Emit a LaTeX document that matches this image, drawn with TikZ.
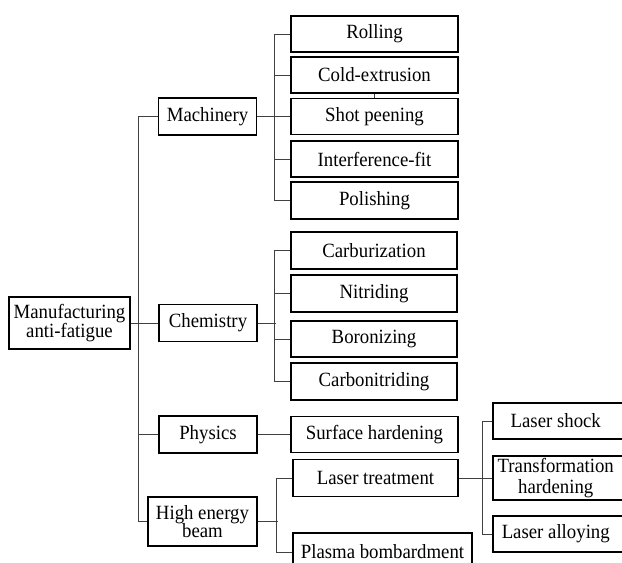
\documentclass[tikz,border=0pt]{standalone}
\usepackage{fontspec}
\setmainfont{Liberation Serif}[FakeStretch=0.93]
\begin{document}
\begin{tikzpicture}[x=1pt,y=-1pt,
  box/.style={draw=black, line width=1.5pt, inner sep=0pt, align=center,
    font=\fontsize{20.2}{18.5}\selectfont},
  lbox/.style={box, minimum width=167pt, minimum height=36pt},
  mbox/.style={box, minimum width=98pt, minimum height=37pt},
  rbox/.style={box, anchor=west, minimum width=170pt},
  conn/.style={draw=black!75, line width=0.9pt}]
\clip (0,0) rectangle (622,563);
% level 0 and 1
\node[box, minimum width=121pt, minimum height=52pt] (man) at (69.5,323) {Manufacturing\\anti-fatigue};
\node[mbox] (mach) at (207.5,116.5) {Machinery};
\node[mbox] (chem) at (208,323) {Chemistry};
\node[mbox] (phys) at (208,434.5) {Physics};
\node[box, minimum width=109pt, minimum height=49pt] (heb) at (202.5,521.5) {High energy\\beam};
% machinery leaves
\node[lbox] (roll) at (374.5,34) {Rolling};
\node[lbox] (cold) at (374.5,75) {Cold-extrusion};
\node[lbox] (shot) at (374.5,116.5) {Shot peening};
\node[lbox] (inter) at (374.5,159) {Interference-fit};
\node[lbox, minimum height=37pt] (pol) at (374.5,200.5) {Polishing};
% chemistry leaves
\node[lbox, minimum width=166pt, minimum height=37pt] (carb) at (374,250.5) {Carburization};
\node[lbox, minimum width=166pt, minimum height=37pt] (nitr) at (374,293.5) {Nitriding};
\node[lbox, minimum width=166pt] (boro) at (374,339) {Boronizing};
\node[lbox, minimum width=166pt, minimum height=37pt] (carbo) at (374,381.5) {Carbonitriding};
% physics
\node[lbox] (surf) at (374.5,434.5) {Surface hardening};
% high energy beam
\node[lbox, minimum width=165pt, minimum height=37pt] (lt) at (375.5,478) {Laser treatment};
\node[box, minimum width=179pt, minimum height=38pt] (pl) at (382.5,552) {Plasma bombardment};
% laser leaves
\node[rbox, minimum height=36pt] (ls) at (492,421) {Laser shock\hspace*{44pt}};
\node[rbox, minimum height=44pt] (th) at (492,478) {Transformation\hspace*{44pt}\\[2pt]hardening\hspace*{44pt}};
\node[rbox, minimum height=36pt] (la) at (492,534) {Laser alloying\hspace*{44pt}};
% connectors level 0-1
\draw[conn] (man.east) -- (chem.west);
\draw[conn] (mach.west) -- ++(-19,0) |- (heb.west);
\draw[conn] (phys.west) -- ++(-19,0);
% machinery
\draw[conn] (mach.east) -- (shot.west);
\draw[conn] (roll.west) -- ++(-16,0) |- (pol.west);
\draw[conn] (cold.west) -- ++(-16,0);
\draw[conn] (inter.west) -- ++(-16,0);
\draw[conn] (cold.south) -- (shot.north);
% chemistry
\draw[conn] (chem.east) -- ++(18,0);
\draw[conn] (carb.west) -- ++(-16,0) |- (carbo.west);
\draw[conn] (nitr.west) -- ++(-16,0);
\draw[conn] (boro.west) -- ++(-16,0);
% physics
\draw[conn] (phys.east) -- (surf.west);
% high energy beam
\draw[conn] (heb.east) -- ++(20,0);
\draw[conn] (lt.west) -- ++(-16,0) |- (pl.west);
% laser treatment
\draw[conn] (lt.east) -- (th.west);
\draw[conn] (ls.west) -- ++(-10,0) |- (la.west);
\end{tikzpicture}
\end{document}
